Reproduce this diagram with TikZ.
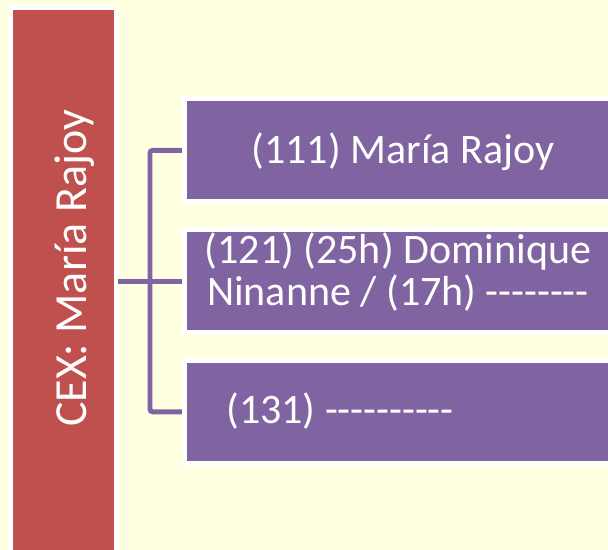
\documentclass[tikz,border=0pt]{standalone}
\usepackage{fontspec}
\setmainfont{Carlito}
\definecolor{bgy}{HTML}{FFFFE2}
\definecolor{cexred}{HTML}{C0504D}
\definecolor{boxpurple}{HTML}{8064A2}
\newcommand{\hy}{-{}}
\begin{document}
\begin{tikzpicture}[x=0.75pt,y=-0.75pt,
  redbox/.style={draw=white,fill=cexred,line width=3.3pt,inner sep=0pt,minimum width=78.4pt,minimum height=415pt},
  purplebox/.style={draw=white,fill=boxpurple,line width=3.7pt,inner sep=0pt,minimum width=323pt,minimum height=77.4pt},
  boxtext/.style={text=white,inner sep=0pt,font=\fontsize{31.5}{31.5}\selectfont},
  link/.style={draw=boxpurple,line width=3.7pt,rounded corners=2pt}]
\useasboundingbox (0,0) rectangle (608,550);
\fill[bgy] (0,0) rectangle (608,550);
\begin{scope}
\clip (0,0) rectangle (608,550);
\node[redbox] (cex) at (63.5,284.5) {};
\node[purplebox] (b1) at (399.6,150.35) {};
\node[purplebox] (b2) at (399.6,281.1) {};
\node[purplebox] (b3) at (399.6,411.85) {};
\end{scope}
\node[boxtext,rotate=90,anchor=base,font=\fontsize{34.5}{34.5}\selectfont] (tcex) at (86,268.5) {CEX: María Rajoy};
\node[boxtext,anchor=base] (t1) at (403,163) {(111) María Rajoy};
\node[boxtext,anchor=base,align=center] (t2) at (398,305) {(121) (25h) Dominique\\Ninanne / (17h) \hy\hy\hy\hy\hy\hy\hy\hy};
\node[boxtext,anchor=base] (t3) at (340,423) {(131) \hy\hy\hy\hy\hy\hy\hy\hy\hy\hy};
\coordinate (cexr) at (cex.east |- b2.west);
\draw[link] (b1.west) -- (150,150.35) -- (150,411.85) -- (b3.west);
\draw[link,rounded corners=0pt] (cexr) -- (b2.west);
\end{tikzpicture}
\end{document}
